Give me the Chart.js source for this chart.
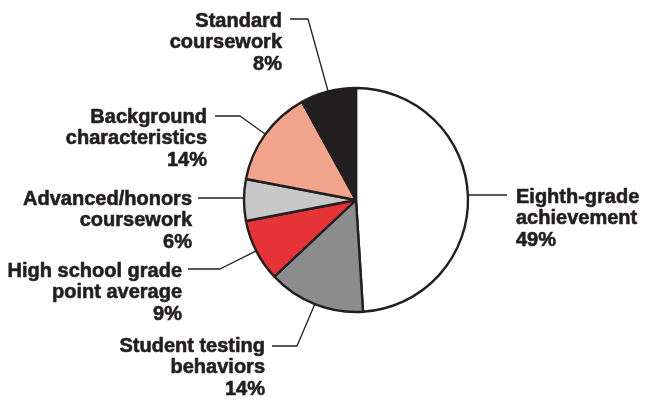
<!DOCTYPE html>
<html>
<head>
<meta charset="utf-8">
<script src="https://cdn.jsdelivr.net/npm/chart.js@4/dist/chart.umd.min.js"></script>
<style>
  html, body { margin: 0; padding: 0; background: #ffffff; }
  #wrap { width: 655px; height: 400px; }
</style>
</head>
<body>
<div id="wrap"><canvas id="c" width="655" height="400"></canvas></div>
<script>
// ---- data ----
const categories = [
  ['Eighth-grade', 'achievement'],
  ['Student testing', 'behaviors'],
  ['High school grade', 'point average'],
  ['Advanced/honors', 'coursework'],
  ['Background', 'characteristics'],
  ['Standard', 'coursework']
];
const shares = [49, 14, 9, 6, 14, 8];
const shareLabels = ['49%', '14%', '9%', '6%', '14%', '8%'];

// ---- styles ----
const sliceColors = ['#ffffff', '#8c8c8c', '#e63338', '#c8c8c8', '#f2a48d', '#231f20'];
const inkColor = '#231f20';

// ---- label layout (text anchor, leader line) ----
const labelLayout = [
  { align: 'left',  tx: 516, ty: 203, lineY: 195, lineX: 507, elbowX: null },
  { align: 'right', tx: 265, ty: 352, lineY: 346, lineX: 272, elbowX: 297 },
  { align: 'right', tx: 182, ty: 277, lineY: 269, lineX: 188, elbowX: 220 },
  { align: 'right', tx: 192, ty: 205, lineY: 198, lineX: 198, elbowX: null },
  { align: 'right', tx: 207, ty: 123, lineY: 116, lineX: 215, elbowX: 240 },
  { align: 'right', tx: 282, ty: 27,  lineY: 19,  lineX: 290, elbowX: 308 }
];

const calloutPlugin = {
  id: 'callouts',
  afterDatasetsDraw(chart) {
    const ctx = chart.ctx;
    const meta = chart.getDatasetMeta(0);
    ctx.save();
    ctx.strokeStyle = inkColor;
    ctx.fillStyle = inkColor;
    ctx.font = 'bold 20px "Liberation Sans", Arial, sans-serif';
    ctx.textBaseline = 'alphabetic';
    ctx.lineJoin = 'round';
    meta.data.forEach((arc, i) => {
      const p = arc.getProps(['x', 'y', 'startAngle', 'endAngle', 'outerRadius'], true);
      const mid = (p.startAngle + p.endAngle) / 2;
      const ax = p.x + Math.cos(mid) * p.outerRadius;
      const ay = p.y + Math.sin(mid) * p.outerRadius;
      const L = labelLayout[i];
      ctx.lineWidth = 1.3;
      ctx.beginPath();
      if (L.elbowX === null) {
        ctx.moveTo(ax, L.lineY);
        ctx.lineTo(L.lineX, L.lineY);
      } else {
        ctx.moveTo(L.lineX, L.lineY);
        ctx.lineTo(L.elbowX, L.lineY);
        ctx.lineTo(ax, ay);
      }
      ctx.stroke();
      const lines = categories[i].concat([shareLabels[i]]);
      ctx.textAlign = L.align;
      ctx.lineWidth = 0.6;
      lines.forEach((t, k) => {
        const y = L.ty + k * 21.3;
        ctx.fillText(t, L.tx, y);
        ctx.strokeText(t, L.tx, y);
      });
    });
    ctx.restore();
  }
};

new Chart(document.getElementById('c'), {
  type: 'pie',
  data: {
    labels: categories.map(c => c.join(' ')),
    datasets: [{
      data: shares,
      backgroundColor: sliceColors,
      borderColor: inkColor,
      borderWidth: 2.4,
      radius: 112
    }]
  },
  options: {
    responsive: false,
    animation: false,
    layout: { padding: { left: 244, right: 187, top: 88, bottom: 88 } },
    plugins: { legend: { display: false }, tooltip: { enabled: false } }
  },
  plugins: [calloutPlugin]
});
</script>
</body>
</html>
